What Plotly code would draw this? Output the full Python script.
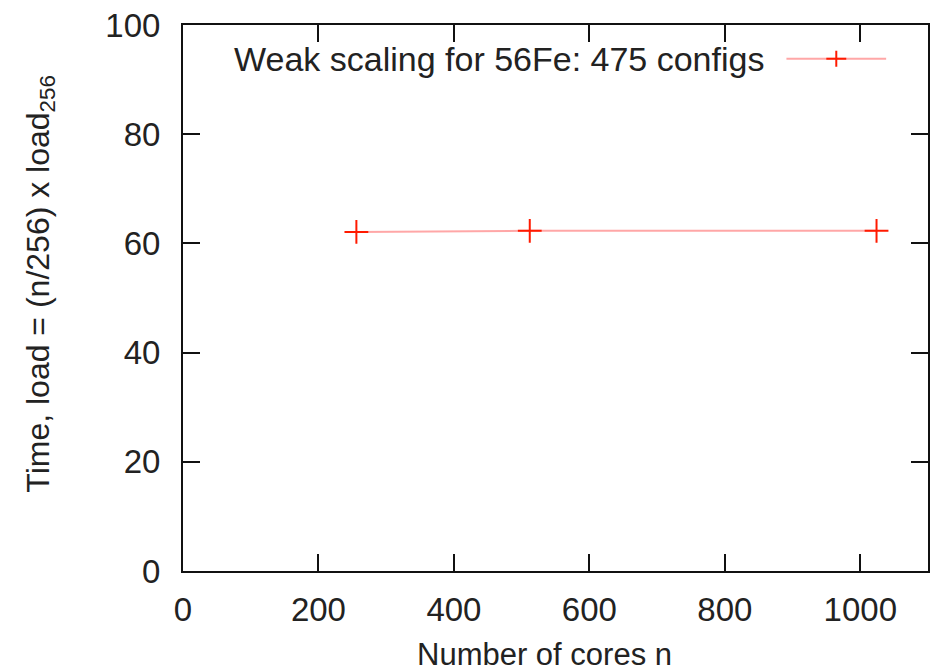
import plotly.graph_objects as go

cores = [256, 512, 1024]
time_load = [62.1, 62.3, 62.3]
series_name = "Weak scaling for 56Fe: 475 configs"
x_ticks = [0, 200, 400, 600, 800, 1000]
y_ticks = [0, 20, 40, 60, 80, 100]

W, H = 932, 672
L, R, T, B = 182.7, 930.0, 25.3, 570.7
pw, ph = R - L, B - T


def px(x):
    return (x - L) / pw


def py(y):
    return (B - y) / ph


FONT = "Liberation Sans, Arial, sans-serif"
RED = "#ff1a00"
LINE = "rgba(255,60,60,0.45)"
TXT = "#222"

fig = go.Figure()
fig.add_trace(go.Scatter(
    x=cores, y=time_load, mode="lines+markers",
    line=dict(color=LINE, width=2),
    marker=dict(symbol="cross-thin", size=17, line=dict(color=RED, width=2), color=RED),
    showlegend=False,
))

axis_common = dict(
    showgrid=False, zeroline=False, showline=True, linecolor="#111", linewidth=2,
    mirror="ticks", ticks="inside", ticklen=17, tickwidth=2, tickcolor="#111",
    tickfont=dict(family=FONT, size=33, color=TXT),
)
fig.update_xaxes(range=[0, 1100], tickvals=x_ticks, ticklabelstandoff=8, **axis_common)
fig.update_yaxes(range=[0, 100], tickvals=y_ticks, ticklabelstandoff=14, **axis_common)

shapes = []
ky = 59
shapes.append(dict(type="line", xref="paper", yref="paper", x0=px(788), x1=px(888), y0=py(ky), y1=py(ky),
                   line=dict(color=LINE, width=2)))
shapes.append(dict(type="line", xref="paper", yref="paper", x0=px(828), x1=px(848), y0=py(ky), y1=py(ky),
                   line=dict(color=RED, width=2)))
shapes.append(dict(type="line", xref="paper", yref="paper", x0=px(838), x1=px(838), y0=py(ky - 8), y1=py(ky + 8),
                   line=dict(color=RED, width=2)))

annotations = [
    dict(text=series_name, xref="paper", yref="paper", x=px(768), y=py(ky), xanchor="right", yanchor="middle",
         showarrow=False, font=dict(family=FONT, size=34, color=TXT)),
    dict(text="Number of cores n", xref="paper", yref="paper", x=px(545), y=py(654), xanchor="center",
         yanchor="middle", showarrow=False, font=dict(family=FONT, size=31, color=TXT)),
    dict(text="Time, load = (n/256) x load<sub>256</sub>", xref="paper", yref="paper", x=px(40), y=py(284),
         xanchor="center", yanchor="middle", textangle=-90, showarrow=False,
         font=dict(family=FONT, size=32, color=TXT)),
]

fig.update_layout(
    width=W, height=H, margin=dict(l=L, r=W - R, t=T, b=H - B),
    plot_bgcolor="white", paper_bgcolor="white",
    shapes=shapes, annotations=annotations,
)
fig.write_html("out.html")
